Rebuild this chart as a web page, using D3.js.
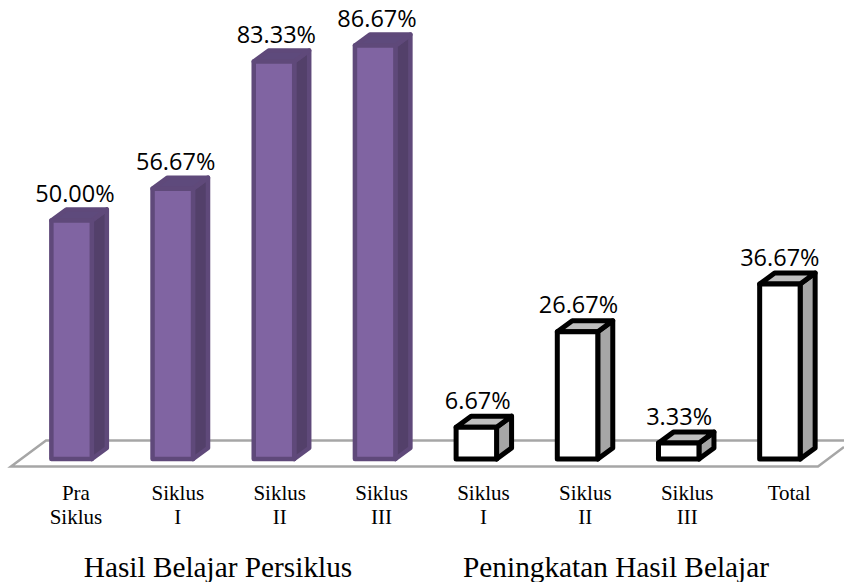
<!DOCTYPE html>
<html>
<head>
<meta charset="utf-8">
<script src="https://cdn.jsdelivr.net/npm/d3@7"></script>
<style>
  html, body { margin: 0; padding: 0; background: #fff; }
  svg { display: block; }
  .valueLabel { font-family: "Open Sans", sans-serif; font-size: 23.5px; fill: #000; text-anchor: middle; }
  .axis text { font-family: "Liberation Serif", serif; font-size: 21px; fill: #000; }
  .groupTitle { font-family: "Liberation Serif", serif; font-size: 29.3px; fill: #000; text-anchor: middle; }
</style>
</head>
<body>
<div id="chart"></div>
<script>
// Chart data
const categories = ["Pra Siklus", "Siklus I", "Siklus II", "Siklus III", "Siklus I", "Siklus II", "Siklus III", "Total"];
const values = [50.00, 56.67, 83.33, 86.67, 6.67, 26.67, 3.33, 36.67];
const seriesOf = ["hasil", "hasil", "hasil", "hasil", "naik", "naik", "naik", "naik"];
const groupTitles = ["Hasil Belajar Persiklus", "Peningkatan Hasil Belajar"];

// Global constants
const width = 844;
const height = 582;
const baseY = 459;
const depth = { x: 15, y: -11 };

const colors = {
  hasil: { front: "#8064a2", top: "#5e4a7c", side: "#53406a", stroke: "#5f497a", width: 4.5 },
  naik: { front: "#ffffff", top: "#bfbfbf", side: "#a6a6a6", stroke: "#000000", width: 5 }
};

const x = d3.scaleBand()
  .domain(d3.range(categories.length))
  .range([21, 830.5])
  .paddingInner(0.6)
  .paddingOuter(0.3);

// The labels in the picture are not spaced quite like the bars
const xValueLabel = x.copy().range([24.6, 830.2]);
const xCategory = x.copy().range([25, 840]);

const y = d3.scaleLinear()
  .domain([0, 100])
  .range([baseY, baseY - 477]);

const svg = d3.select("#chart")
  .append("svg")
    .attr("width", width)
    .attr("height", height);

// Floor of the 3D chart
const floorPath = d3.path();
floorPath.moveTo(844, 440.5);
floorPath.lineTo(46, 440.5);
floorPath.lineTo(11, 466.5);
floorPath.lineTo(818, 466.5);
floorPath.lineTo(844, 447);
svg.append("path")
  .attr("d", floorPath.toString())
  .attr("fill", "none")
  .attr("stroke", "#a6a6a6")
  .attr("stroke-width", 2.5);

// Bars: side, top and front face
const bars = svg.selectAll(".bar")
  .data(values)
  .enter().append("g")
    .attr("class", "bar")
    .attr("stroke", (d, i) => colors[seriesOf[i]].stroke)
    .attr("stroke-width", (d, i) => colors[seriesOf[i]].width)
    .attr("stroke-linejoin", "round");

bars.append("path")
  .attr("fill", (d, i) => colors[seriesOf[i]].side)
  .attr("d", (d, i) => {
    const r = x(i) + x.bandwidth();
    return d3.line()([[r, y(d)], [r + depth.x, y(d) + depth.y], [r + depth.x, baseY + depth.y], [r, baseY]]) + "Z";
  });

bars.append("path")
  .attr("fill", (d, i) => colors[seriesOf[i]].top)
  .attr("d", (d, i) => {
    const l = x(i);
    const r = l + x.bandwidth();
    return d3.line()([[l, y(d)], [l + depth.x, y(d) + depth.y], [r + depth.x, y(d) + depth.y], [r, y(d)]]) + "Z";
  });

bars.append("rect")
  .attr("fill", (d, i) => colors[seriesOf[i]].front)
  .attr("x", (d, i) => x(i))
  .attr("y", d => y(d))
  .attr("width", x.bandwidth())
  .attr("height", d => baseY - y(d));

// Value labels
svg.selectAll(".valueLabel")
  .data(values)
  .enter().append("text")
    .attr("class", "valueLabel")
    .attr("x", (d, i) => xValueLabel(i) + xValueLabel.bandwidth() / 2)
    .attr("y", d => y(d) - 18.5)
    .text(d => d.toFixed(2) + "%");

// Category axis, labels broken over two lines
const axis = svg.append("g")
  .attr("class", "axis")
  .attr("transform", "translate(0,500)")
  .call(d3.axisBottom(xCategory).tickSize(0).tickPadding(0).tickFormat(""));
axis.select(".domain").remove();
axis.selectAll(".tick text").each(function(i) {
  const words = categories[i].split(" ");
  const label = d3.select(this).attr("y", 0).attr("dy", null);
  words.forEach((word, n) => {
    label.append("tspan")
      .attr("x", 0)
      .attr("y", n * 24)
      .text(word);
  });
});

// Group titles
svg.selectAll(".groupTitle")
  .data(groupTitles)
  .enter().append("text")
    .attr("class", "groupTitle")
    .attr("x", (d, i) => [218, 616][i])
    .attr("y", 577)
    .text(d => d);
</script>
</body>
</html>
